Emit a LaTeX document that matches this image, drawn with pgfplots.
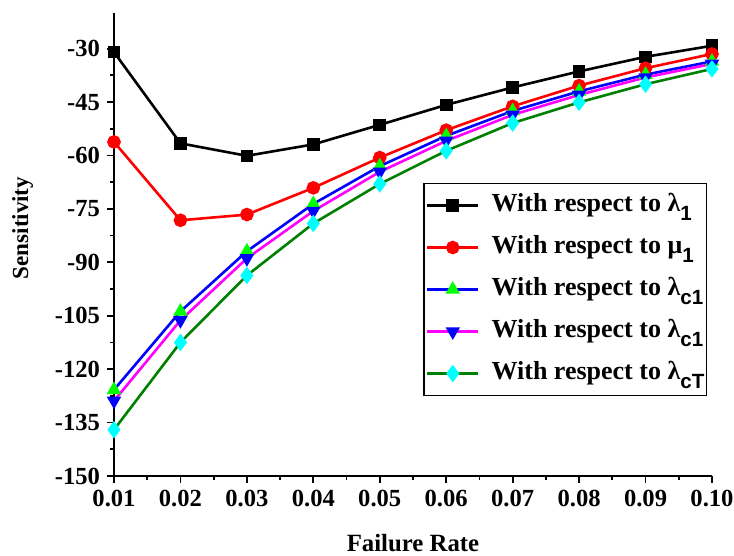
\documentclass[border=0pt]{standalone}
\usepackage{fontspec}
\setmainfont{Liberation Serif}
\newfontfamily\arial{Liberation Sans}
\usepackage{pgfplots}
\pgfplotsset{compat=1.18}
\definecolor{cyanR}{rgb}{0,1,1}
\definecolor{magR}{rgb}{1,0,1}
\definecolor{greenR}{rgb}{0,1,0}
\definecolor{dgreen}{rgb}{0,0.5,0}
\newcommand\sub[1]{\raisebox{-4.5pt}{\arial\bfseries\fontsize{10.3}{10}\selectfont #1}}
\begin{document}
\begin{tikzpicture}
\begin{axis}[
  at={(0,0)}, anchor=south west,
  width=299pt, height=231.5pt, scale only axis,
  xmin=0.01, xmax=0.10, ymin=-150, ymax=-20,
  axis x line*=bottom, axis y line*=left,
  axis line style={line width=0.9pt},
  every tick/.style={black, line width=0.9pt},
  tick align=outside,
  major tick length=3.5pt, minor tick length=2pt,
  xtick={0.01,0.02,0.03,0.04,0.05,0.06,0.07,0.08,0.09,0.10},
  xticklabels={0.01,0.02,0.03,0.04,0.05,0.06,0.07,0.08,0.09,0.10},
  ytick={-150,-135,-120,-105,-90,-75,-60,-45,-30},
  yticklabels={-150,-135,-120,-105,-90,-75,-60,-45,-30},
  minor x tick num=1, minor y tick num=1,
  ticklabel style={font=\bfseries\fontsize{12.3}{13}\selectfont},
  xlabel={Failure Rate}, ylabel={Sensitivity},
  xlabel style={font=\bfseries\fontsize{12.4}{14}\selectfont, at={(axis description cs:0.5,0)}, anchor=base, yshift=-37.9pt},
  ylabel style={font=\bfseries\fontsize{11.5}{14}\selectfont, at={(axis description cs:-0.153,0.5356)}, anchor=center, rotate=0},
  legend cell align=left,
  legend style={at={(axis description cs:0.9916,0.633)}, anchor=north east,
    draw=black, line width=0.6pt, inner xsep=1pt, inner ysep=5pt,
    font=\bfseries\fontsize{13}{15}\selectfont,
    nodes={inner sep=0pt, text height=9pt, text depth=3pt},
    row sep=9pt, column sep=6pt},
  legend image code/.code={\draw[mark repeat=2,mark phase=2] plot coordinates {(0pt,0pt)(12.75pt,0pt)(25.5pt,0pt)};},
  clip=false,
]
\addplot[black, line width=1.3pt, mark=square*, mark size=2.5pt, mark options={fill=black}] coordinates {
(0.01,-31.0)(0.02,-56.6)(0.03,-60.1)(0.04,-56.9)(0.05,-51.4)(0.06,-45.8)(0.07,-40.9)(0.08,-36.4)(0.09,-32.3)(0.10,-29.2)};
\addlegendentry{With respect to λ\sub{1}}
\addplot[red, line width=1.3pt, mark=*, mark size=2.75pt, mark options={fill=red}] coordinates {
(0.01,-56.2)(0.02,-78.2)(0.03,-76.6)(0.04,-69.1)(0.05,-60.6)(0.06,-52.9)(0.07,-46.2)(0.08,-40.4)(0.09,-35.5)(0.10,-31.5)};
\addlegendentry{With respect to μ\sub{1}}
\addplot[blue, line width=1.3pt, mark=triangle*, mark size=2.9pt, mark options={fill=greenR, draw=greenR}] coordinates {
(0.01,-125.8)(0.02,-103.8)(0.03,-86.9)(0.04,-73.6)(0.05,-63.0)(0.06,-54.5)(0.07,-47.5)(0.08,-42.0)(0.09,-37.3)(0.10,-33.6)};
\addlegendentry{With respect to λ\sub{c1}}
\addplot[magR, line width=1.3pt, mark=triangle*, mark size=2.9pt, mark options={fill=blue, draw=blue, rotate=180}] coordinates {
(0.01,-128.9)(0.02,-106.3)(0.03,-88.9)(0.04,-75.6)(0.05,-64.6)(0.06,-55.9)(0.07,-48.6)(0.08,-43.0)(0.09,-38.1)(0.10,-34.3)};
\addlegendentry{With respect to λ\sub{c1}}
\addplot[dgreen, line width=1.3pt, mark=diamond*, mark size=3.3pt, mark options={fill=cyanR, draw=cyanR}] coordinates {
(0.01,-137.0)(0.02,-112.5)(0.03,-93.7)(0.04,-79.1)(0.05,-68.0)(0.06,-58.7)(0.07,-50.9)(0.08,-45.1)(0.09,-40.0)(0.10,-35.7)};
\addlegendentry{With respect to λ\sub{cT}}
\end{axis}
\pgfresetboundingbox
\path[use as bounding box] (-57pt,-40pt) rectangle (310pt,238pt);
\end{tikzpicture}
\end{document}
